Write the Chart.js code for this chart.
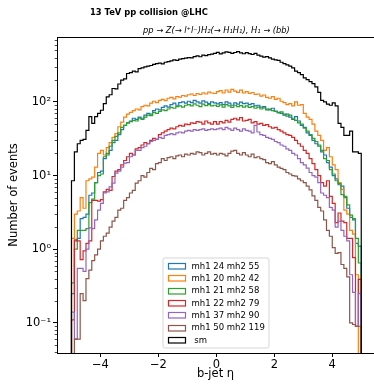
<!DOCTYPE html>
<html lang="en">
<head>
<meta charset="UTF-8">
<title>b-jet eta</title>
<script src="https://cdn.jsdelivr.net/npm/chart.js"></script>
<style>
  html, body { margin: 0; padding: 0; background: #fff; overflow: hidden; }
  #wrap { width: 374px; height: 384px; }
</style>
</head>
<body>
<div id="wrap"><canvas id="etaChart" width="374" height="384"></canvas></div>
<script>
// binning: 100 bins of width 0.1 from -5 to 5
const binStart = -5;
const binWidth = 0.1;

const mainTitle = '13 TeV pp collision @LHC';
const subTitle = 'pp \u2192 Z(\u2192 l\u207Al\u207B)H\u2082(\u2192 H\u2081H\u2081), H\u2081 \u2192 (bb)';

const sampleLabels = ['mh1 24 mh2 55', 'mh1 20 mh2 42', 'mh1 21 mh2 58',
  'mh1 22 mh2 79', 'mh1 37 mh2 90', 'mh1 50 mh2 119', ' sm'];
const sampleColors = ['#1f77b4', '#ff7f0e', '#2ca02c', '#d62728', '#9467bd', '#8c564b', '#000000'];

const xTicks = [-4, -2, 0, 2, 4];
const yTicks = [0.1, 1, 10, 100];

// events per bin
const mh1_24_mh2_55 = [
  0.25, 1.3, 1.4, 2.6, 2.7, 3.0, 5.4, 5.8, 8.0, 11,
  11.5, 17, 19, 22, 28, 30, 36, 42, 48, 52,
  55, 60, 58, 62, 60, 66, 70, 68, 76, 80,
  78, 84, 88, 85, 92, 96, 90, 98, 100, 96,
  102, 98, 105, 100, 96, 103, 99, 95, 100, 97,
  94, 98, 92, 100, 96, 90, 97, 93, 99, 95,
  96, 92, 95, 88, 90, 85, 86, 80, 78, 82,
  75, 72, 70, 66, 68, 62, 58, 63, 55, 48,
  45, 38, 35, 30, 27, 25, 21, 19, 15, 13,
  10, 9, 7.5, 7.2, 5.0, 3.6, 2.7, 2.5, 1.2, 1.1
];
const mh1_20_mh2_42 = [
  1.4, 3.0, 3.3, 5.0, 3.6, 8.5, 9.0, 9.5, 13, 20,
  22, 19, 24, 28, 33, 37, 46, 53, 62, 68,
  72, 76, 80, 78, 86, 90, 88, 96, 102, 98,
  105, 108, 104, 112, 115, 110, 118, 116, 122, 120,
  125, 128, 122, 130, 126, 133, 128, 136, 132, 130,
  138, 142, 132, 145, 136, 148, 140, 135, 144, 132,
  138, 130, 134, 126, 128, 120, 124, 115, 112, 118,
  108, 112, 102, 98, 92, 95, 88, 100, 90, 92,
  70, 62, 58, 50, 40, 35, 30, 22, 24, 18,
  14, 12, 8, 6.5, 3.4, 3.0, 1.8, 1.6, 0.45, 0
];
const mh1_21_mh2_58 = [
  0.35, 1.0, 1.8, 1.8, 1.8, 1.9, 4.3, 4.8, 8.0, 10,
  10.5, 18, 20, 25, 30, 34, 38, 45, 48, 52,
  54, 56, 55, 60, 58, 62, 66, 65, 72, 70,
  74, 78, 76, 80, 84, 82, 86, 88, 85, 90,
  92, 88, 94, 90, 86, 93, 89, 92, 88, 90,
  87, 91, 85, 92, 88, 84, 90, 86, 89, 85,
  88, 84, 86, 82, 85, 80, 83, 78, 80, 76,
  74, 71, 73, 68, 64, 66, 60, 56, 52, 50,
  44, 40, 36, 32, 29, 26, 22, 17, 16, 12,
  10.5, 8.5, 7.8, 5.5, 5.2, 4.0, 2.9, 2.6, 1.4, 0.65
];
const mh1_22_mh2_79 = [
  0.11, 1.34, 1.3, 0.72, 0.95, 1.2, 1.3, 4.6, 4.6, 4.5,
  4.7, 6.0, 6.5, 6.3, 9.7, 11.5, 12, 14, 16, 18,
  20, 19, 23, 24, 26, 28, 27, 30, 32, 31,
  36, 38, 40, 42, 44, 43, 46, 48, 47, 50,
  49, 52, 51, 54, 53, 50, 55, 52, 50, 54,
  50, 54, 52, 56, 53, 58, 60, 57, 61, 55,
  56, 58, 52, 54, 50, 51, 48, 49, 46, 44,
  45, 42, 40, 38, 36, 35, 33, 30, 27, 25,
  22, 20, 17, 14.5, 12, 10, 8, 7.2, 8.5, 5.2,
  4.2, 2.3, 3.1, 2.4, 2.3, 1.4, 1.4, 0.77, 0.09, 0.39
];
const mh1_37_mh2_90 = [
  0.14, 0.06, 0.55, 0.55, 0.5, 1.0, 1.95, 1.9, 2.5, 3.4,
  4.2, 5.8, 6.0, 7.0, 7.9, 10.8, 11.5, 13, 14.7, 15,
  18, 19, 22, 22, 24, 25, 27, 29, 30, 31,
  33, 32, 35, 36, 37, 36, 38, 39, 38, 40,
  41, 40, 42, 41, 42, 43, 41, 42, 43, 42,
  43, 44, 42, 45, 43, 41, 44, 42, 40, 43,
  41, 40, 38, 48, 39, 36, 35, 33, 32, 31,
  29, 28, 26, 25, 23, 22, 20, 19, 17, 15,
  14, 12.6, 11, 10, 9.5, 8, 5.8, 5.4, 5.0, 3.7,
  3.4, 2.0, 2.4, 1.8, 1.5, 1.3, 0.45, 0.26, 0.09, 0.25
];
const mh1_50_mh2_119 = [
  0, 0.06, 0.06, 0.25, 0.2, 0.4, 0.52, 0.7, 0.84, 1.0,
  1.3, 1.5, 1.65, 2.0, 2.4, 2.7, 3.4, 3.6, 4.6, 5.0,
  5.8, 6.3, 7.9, 8.5, 10, 9.5, 11, 12.5, 12, 14.5,
  15, 17, 16, 17.5, 18, 17, 18.5, 19, 18, 19.5,
  19, 20, 19.5, 21, 20.5, 19, 20, 21, 19.5, 20,
  19, 20, 19.5, 18.5, 20, 21.5, 22, 20, 19, 20.5,
  19, 18, 19.5, 17.5, 18, 17, 16.5, 15, 14.5, 15.5,
  14, 13, 12.5, 12, 11, 10.5, 10, 9.8, 9.0, 8.5,
  8, 7.2, 6.4, 5.3, 4.6, 3.7, 3.3, 2.5, 1.8, 1.5,
  1.05, 0.88, 0.9, 0.62, 0.55, 0.42, 0.1, 0.095, 0.09, 0.09
];
const sm = [
  8.5, 21, 27, 30, 31, 41, 63, 51, 63, 70,
  77, 95, 117, 125, 152, 150, 175, 197, 205, 243,
  250, 262, 255, 283, 290, 298, 305, 312, 322, 330,
  335, 328, 345, 352, 360, 372, 365, 380, 387, 392,
  400, 395, 412, 420, 410, 430, 425, 438, 445, 455,
  470, 448, 462, 476, 470, 455, 468, 480, 462, 450,
  465, 452, 440, 455, 430, 418, 405, 412, 395, 380,
  372, 365, 345, 330, 318, 305, 290, 262, 250, 235,
  212, 200, 188, 177, 160, 135, 105, 100, 93, 90,
  97, 88, 51, 45, 35, 35, 40, 21, 21, 20
];

const seriesList = [mh1_24_mh2_55, mh1_20_mh2_42, mh1_21_mh2_58,
  mh1_22_mh2_79, mh1_37_mh2_90, mh1_50_mh2_119, sm];

// empty bins go far below the axis so the outline drops off like matplotlib's
const emptyBin = 1e-4;

function stepPoints(counts) {
  const pts = [{x: binStart, y: emptyBin}];
  counts.forEach((c, i) => {
    pts.push({x: +(binStart + i * binWidth).toFixed(1), y: c > 0 ? c : emptyBin});
  });
  pts.push({x: +(binStart + counts.length * binWidth).toFixed(1), y: emptyBin});
  return pts;
}

const font = '"DejaVu Sans", sans-serif';

// top spine, minor log ticks, titles
const axesExtras = {
  id: 'axesExtras',
  afterDraw(chart) {
    const {ctx, chartArea} = chart;
    const y = chart.scales.y;
    ctx.save();
    ctx.strokeStyle = '#000';
    ctx.lineWidth = 1;
    ctx.beginPath();
    ctx.moveTo(chartArea.left, chartArea.top + 0.5);
    ctx.lineTo(chartArea.right, chartArea.top + 0.5);
    ctx.stroke();

    ctx.lineWidth = 0.7;
    ctx.beginPath();
    for (let k = -2; k <= 3; k++) {
      for (let m = 2; m <= 9; m++) {
        const v = m * Math.pow(10, k);
        if (v < y.min || v > y.max) continue;
        const py = Math.round(y.getPixelForValue(v)) + 0.5;
        ctx.moveTo(chartArea.left - 2.3, py);
        ctx.lineTo(chartArea.left, py);
      }
    }
    ctx.stroke();

    ctx.fillStyle = '#000';
    ctx.textBaseline = 'middle';
    ctx.textAlign = 'left';
    ctx.font = 'bold 8.4px ' + font;
    ctx.fillText(mainTitle, 90, 13);
    ctx.textAlign = 'center';
    ctx.font = 'italic 8.3px ' + font;
    ctx.fillText(subTitle, chart.scales.x.getPixelForValue(0), 30.5);
    ctx.restore();
  }
};

const legendBox = {
  id: 'legendBox',
  afterDatasetsDraw(chart) {
    const {ctx} = chart;
    const bx = 163, by = 258, bw = 106, bh = 90, r = 2;
    ctx.save();
    ctx.beginPath();
    ctx.moveTo(bx + r, by);
    ctx.arcTo(bx + bw, by, bx + bw, by + bh, r);
    ctx.arcTo(bx + bw, by + bh, bx, by + bh, r);
    ctx.arcTo(bx, by + bh, bx, by, r);
    ctx.arcTo(bx, by, bx + bw, by, r);
    ctx.closePath();
    ctx.fillStyle = 'rgba(255,255,255,0.8)';
    ctx.fill();
    ctx.strokeStyle = 'rgba(204,204,204,0.8)';
    ctx.lineWidth = 1;
    ctx.stroke();

    ctx.font = '8.5px ' + font;
    ctx.textBaseline = 'middle';
    ctx.textAlign = 'left';
    sampleLabels.forEach((lab, i) => {
      const cy = by + 7.8 + i * 12.35;
      ctx.strokeStyle = sampleColors[i];
      ctx.lineWidth = 1.2;
      ctx.strokeRect(168.5, Math.round(cy - 3) + 0.5, 17, 5.5);
      ctx.fillStyle = '#000';
      ctx.fillText(lab, 191.5, cy + 0.5);
    });
    ctx.restore();
  }
};

const ctx = document.getElementById('etaChart').getContext('2d');
const n = seriesList.length;
const etaChart = new Chart(ctx, {
  type: 'line',
  data: {
    datasets: seriesList.map((counts, i) => ({
      label: sampleLabels[i],
      data: stepPoints(counts),
      borderColor: sampleColors[i],
      borderWidth: 1.2,
      stepped: 'before',
      fill: false,
      pointRadius: 0,
      order: n - 1 - i,
      clip: 0
    }))
  },
  options: {
    responsive: false,
    devicePixelRatio: 1,
    animation: false,
    layout: { padding: { top: 37, right: 0, left: 0, bottom: 0 } },
    plugins: {
      legend: { display: false },
      tooltip: { enabled: false },
      title: { display: false }
    },
    scales: {
      x: {
        type: 'linear',
        min: -5.5,
        max: 5.44,
        afterBuildTicks: (s) => { s.ticks = xTicks.map(v => ({value: v})); },
        afterFit: (s) => { s.height = 31; },
        grid: { drawOnChartArea: false, drawTicks: true, tickLength: 4, color: '#000', lineWidth: 1 },
        border: { display: true, color: '#000', width: 1 },
        ticks: {
          color: '#000',
          padding: 1,
          maxRotation: 0,
          autoSkip: false,
          font: { family: font, size: 11.5 },
          callback: (v) => v < 0 ? '\u2212' + Math.abs(v) : String(v)
        },
        title: {
          display: true,
          text: 'b-jet \u03B7',
          color: '#000',
          font: { family: font, size: 11.5 },
          padding: { top: 0, bottom: 3 }
        }
      },
      y: {
        type: 'logarithmic',
        min: 0.039,
        max: 760,
        afterBuildTicks: (s) => { s.ticks = yTicks.map(v => ({value: v})); },
        afterFit: (s) => { s.width = 57; },
        grid: { drawOnChartArea: false, drawTicks: true, tickLength: 4, color: '#000', lineWidth: 1 },
        border: { display: true, color: '#000', width: 1 },
        ticks: {
          color: '#000',
          padding: 2,
          autoSkip: false,
          font: { family: font, size: 11.5 },
          callback: (v) => ({0.1: '10\u207B\u00B9', 1: '10\u2070', 10: '10\u00B9', 100: '10\u00B2'})[v] || ''
        },
        title: {
          display: true,
          text: 'Number of events',
          color: '#000',
          font: { family: font, size: 11.5 },
          padding: { top: 7, bottom: 0 }
        }
      }
    }
  },
  plugins: [axesExtras, legendBox]
});
</script>
</body>
</html>
